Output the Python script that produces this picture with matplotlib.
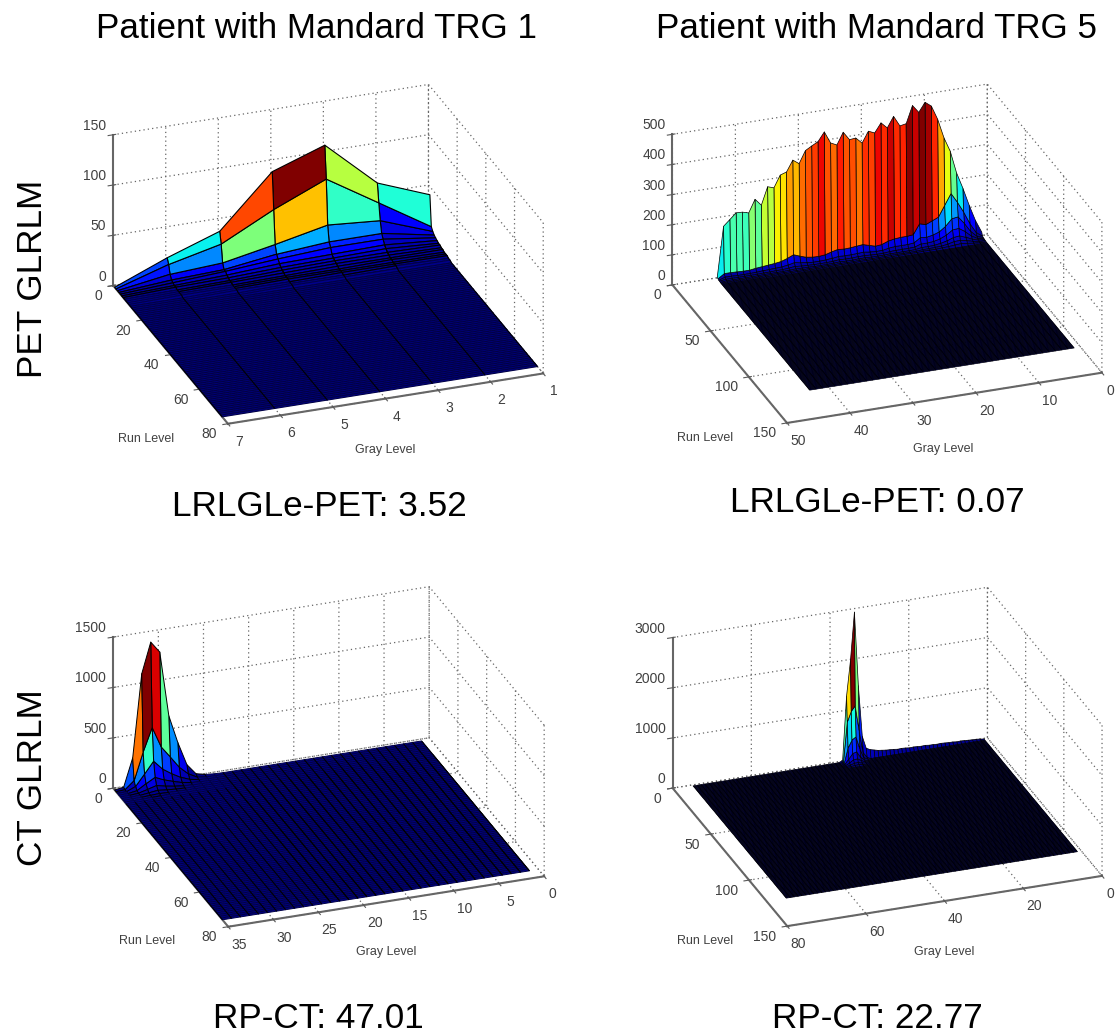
import matplotlib

matplotlib.use("Agg")

import matplotlib.pyplot as plt
import numpy as np
from mpl_toolkits.mplot3d import proj3d

WIDTH, HEIGHT = 1115, 1035
JET = matplotlib.colormaps["jet"]

# panel A: PET GLRLM, TRG 1 - rows are run levels, columns gray levels 1..7
pet1_rows = [
    [42, 62, 108, 90, 39, 21, 0],
    [12, 44, 76, 54, 28, 16, 0],
    [9, 28, 32, 21, 11, 8, 0],
    [7, 17, 17, 13, 6, 4, 0],
    [6, 13, 13, 10, 6, 3, 0],
    [5, 9, 8, 7, 4, 2, 0],
    [4, 7, 6, 5, 3, 2, 0],
    [4, 5, 5, 4, 2, 1, 0],
    [3, 4, 4, 3, 2, 1, 0],
    [3, 3, 3, 2, 1, 1, 0],
    [2, 3, 2, 2, 1, 1, 0],
    [2, 2, 2, 2, 1, 0, 0],
    [2, 2, 2, 1, 1, 0, 0],
    [1, 2, 1, 1, 0, 0, 0],
    [1, 1, 1, 1, 0, 0, 0],
]

# panel B: PET GLRLM, TRG 5 - gray levels 1..43
pet5_rows = [
    [15, 57, 111, 171, 225, 300, 348, 413, 460, 476, 446, 472, 415, 411, 446, 411, 431, 401, 410, 374, 394, 392,
     420, 381, 391, 431, 402, 391, 379, 339, 354, 318, 311, 272, 279, 221, 244, 202, 208, 209, 190, 171, 5],
    [5, 20, 53, 95, 131, 163, 127, 91, 82, 73, 79, 46, 44, 44, 42, 38, 30, 28, 34, 40, 38, 36,
     35, 37, 32, 26, 24, 25, 28, 35, 43, 34, 27, 24, 22, 20, 18, 15, 15, 16, 17, 17, 3],
    [3, 10, 30, 60, 85, 82, 60, 45, 38, 34, 36, 22, 20, 20, 20, 18, 14, 13, 15, 18, 17, 16,
     16, 17, 14, 12, 11, 11, 13, 16, 20, 15, 12, 11, 10, 9, 8, 7, 7, 7, 8, 8, 1],
    [2, 6, 18, 36, 50, 48, 34, 25, 20, 18, 18, 11, 10, 10, 10, 9, 7, 7, 8, 9, 9, 8,
     8, 9, 7, 6, 6, 6, 7, 8, 10, 8, 6, 6, 5, 5, 4, 4, 4, 4, 4, 4, 1],
    [1, 4, 10, 20, 28, 26, 18, 13, 10, 9, 9, 6, 5, 5, 5, 5, 4, 4, 4, 5, 5, 4,
     4, 5, 4, 3, 3, 3, 4, 4, 5, 4, 3, 3, 3, 3, 2, 2, 2, 2, 2, 2, 0],
    [1, 2, 6, 12, 16, 15, 10, 7, 6, 5, 5, 3, 3, 3, 3, 3, 2, 2, 2, 3, 3, 2,
     2, 3, 2, 2, 2, 2, 2, 2, 3, 2, 2, 2, 2, 2, 1, 1, 1, 1, 1, 1, 0],
    [0, 1, 3, 6, 8, 7, 5, 4, 3, 3, 3, 2, 2, 2, 2, 1, 1, 1, 1, 2, 2, 1,
     1, 2, 1, 1, 1, 1, 1, 1, 2, 1, 1, 1, 1, 1, 0, 0, 0, 0, 0, 0, 0],
]

# panel C: CT GLRLM, TRG 1 - gray levels 24..35 hold the peak, lower ones stay near 0
ct1_peak_start = 24
ct1_rows = [
    [3, 10, 33, 137, 370, 650, 1297, 1410, 1110, 290, 13, 0],
    [1, 4, 15, 63, 143, 260, 373, 580, 350, 80, 5, 0],
    [0, 2, 8, 25, 60, 110, 170, 263, 150, 40, 2, 0],
    [0, 1, 4, 10, 25, 50, 80, 120, 70, 15, 1, 0],
    [0, 0, 2, 4, 10, 20, 35, 55, 30, 7, 0, 0],
    [0, 0, 1, 2, 5, 9, 15, 25, 14, 3, 0, 0],
    [0, 0, 0, 1, 2, 4, 6, 10, 6, 1, 0, 0],
    [0, 0, 0, 0, 1, 2, 3, 5, 3, 0, 0, 0],
]

# panel D: CT GLRLM, TRG 5 - low run edge for gray levels 1..37, then the spike rows
ct5_edge = [10, 20, 30, 30, 35, 40, 45, 40, 50, 50, 55, 60, 55, 60, 60, 70, 65, 70, 75, 70, 80, 85, 80, 90, 95,
            100, 110, 120, 140, 160, 200, 450, 1470, 2950, 2000, 1300, 30]
ct5_peak_start = 31
ct5_rows = [
    [40, 150, 600, 1100, 1000, 800, 10],
    [20, 60, 250, 500, 450, 300, 5],
    [10, 30, 100, 220, 200, 100, 2],
    [5, 15, 50, 100, 90, 40, 0],
    [2, 8, 20, 45, 40, 15, 0],
    [0, 3, 10, 20, 15, 6, 0],
]

x_ticks_all = [[1, 2, 3, 4, 5, 6, 7], [0, 10, 20, 30, 40, 50], [0, 5, 10, 15, 20, 25, 30, 35], [0, 20, 40, 60, 80]]
y_ticks_all = [[0, 20, 40, 60, 80], [0, 50, 100, 150], [0, 20, 40, 60, 80], [0, 50, 100, 150]]
z_ticks_all = [[0, 50, 100, 150], [0, 100, 200, 300, 400, 500], [0, 500, 1000, 1500], [0, 1000, 2000, 3000]]


def pad_rows(rows, n_x, n_y, x_start=1):
    grid = np.zeros((n_y, n_x))
    rows = np.array(rows, dtype=float)
    grid[: rows.shape[0], x_start - 1: x_start - 1 + rows.shape[1]] = rows
    return grid


pet1 = pad_rows(pet1_rows, 7, 76)
pet5 = pad_rows(pet5_rows, 43, 122)
ct1 = pad_rows(ct1_rows, 35, 76, ct1_peak_start)
ct5 = pad_rows(ct5_rows, 75, 122, ct5_peak_start)
ct5 = np.vstack([np.zeros((1, 75)), ct5])
ct5[0, : len(ct5_edge)] = ct5_edge

plt.rcParams["font.family"] = ["Liberation Sans", "DejaVu Sans"]
plt.rcParams["grid.linestyle"] = (0, (1, 2.5))
plt.rcParams["grid.color"] = "0.4"
plt.rcParams["grid.linewidth"] = 0.9

fig = plt.figure(figsize=(WIDTH / 100, HEIGHT / 100), dpi=100)


def label(px, py, text, size, ha="center", **kwargs):
    fig.text(px / WIDTH, 1 - py / HEIGHT, text, fontsize=size, ha=ha, va="center", **kwargs)


def place_axes(ax, limits, targets):
    # fit the square 3D axes so that the box corners land on the wanted pixels
    (x0, x1), (y0, y1), (z0, z1) = limits
    corners = [(x1, y0, z0), (x1, y0, z1), (x1, y1, z0), (x0, y1, z0), (x0, y0, z1)]
    proj = ax.get_proj()
    uv = [proj3d.proj_transform(*c, proj)[:2] for c in corners]
    rows, rhs = [], []
    for (u, v), (px, py) in zip(uv, targets):
        rows.append([u, 1, 0])
        rhs.append(px)
        rows.append([v, 0, 1])
        rhs.append(HEIGHT - py)
    s, bx, by = np.linalg.lstsq(np.array(rows), np.array(rhs), rcond=None)[0]
    xl, yl = ax.viewLim.intervalx, ax.viewLim.intervaly
    left, bottom = s * xl[0] + bx, s * yl[0] + by
    ax.set_position([left / WIDTH, bottom / HEIGHT, s * (xl[1] - xl[0]) / WIDTH, s * (yl[1] - yl[0]) / HEIGHT])

    def to_pixels(x, y, z):
        u, v = proj3d.proj_transform(x, y, z, proj)[:2]
        return s * u + bx, HEIGHT - (s * v + by)

    return to_pixels


def draw_panel(z, limits, ticks, targets, black_above=None, edge_width=0.5, wire_rows=None, wire_cols=None):
    x_ticks, y_ticks, z_ticks = ticks
    ax = fig.add_axes([0, 0, 0.4, 0.4], projection="3d", proj_type="ortho", computed_zorder=False)
    ax.patch.set_visible(False)
    ax.view_init(elev=26, azim=70)
    ax.set_box_aspect((1, 1, 0.5), zoom=1)

    n_y, n_x = z.shape
    xs, ys = np.meshgrid(np.arange(1, n_x + 1), np.arange(1, n_y + 1))
    colors = JET(np.clip(z / z.max(), 0, 1))
    surf = ax.plot_surface(xs, ys, z, rstride=1, cstride=1, facecolors=colors, shade=False, zorder=2,
                           linewidth=edge_width, edgecolor="k", antialiased=True)
    if black_above is not None:
        # low parts of the surface only show faint mesh lines
        edges = colors[:-1, :-1].copy()
        edges[..., :3] *= 0.55
        edges[z[:-1, :-1] >= black_above] = (0, 0, 0, 1)
        surf.set_edgecolor(edges.reshape(-1, 4))
        ax.plot_wireframe(xs[wire_rows:], ys[wire_rows:], z[wire_rows:], rstride=0, cstride=1,
                          color="k", linewidth=0.7, zorder=3)
        if wire_cols:
            ax.plot_wireframe(xs[:, :wire_cols], ys[:, :wire_cols], z[:, :wire_cols], rstride=0, cstride=1,
                              color="k", linewidth=0.7, zorder=3)

    ax.set_xlim(*limits[0])
    ax.set_ylim(*limits[1])
    ax.set_zlim(*limits[2])
    ax.set_xticks(x_ticks, labels=[])
    ax.set_yticks(y_ticks, labels=[])
    ax.set_zticks(z_ticks, labels=[])
    for axis in (ax.xaxis, ax.yaxis, ax.zaxis):
        axis.set_pane_color((1, 1, 1, 0))
        axis.pane.set_edgecolor((1, 1, 1, 0))
        axis.line.set_color("0.4")
        axis.line.set_linewidth(1.5)
    ax.tick_params(colors="0.35", pad=0)
    to_pixels = place_axes(ax, limits, targets)

    # matlab keeps the tick labels upright and close to the box corners
    x_far = limits[0][1]
    y_near, y_far = limits[1]
    for t in x_ticks:
        px, py = to_pixels(t, y_far, 0)
        label(px + (8 if t == 0 else 11), py + 18, str(t), 10, color="0.25")
    for t in y_ticks:
        px, py = to_pixels(x_far, t, 0)
        label(px - 11, py + 10.5, str(t), 10, ha="right", color="0.25")
    for t in z_ticks:
        px, py = to_pixels(x_far, y_near, t)
        label(px - 7, py - 9, str(t), 10, ha="right", color="0.25")
    return ax


targets_all = [
    [(113, 286), (113, 135), (227, 423), (543, 373), (430, 85)],
    [(672, 284), (672, 135), (787, 422), (1103, 373), (987, 85)],
    [(113, 787), (113, 638), (227, 927), (545, 875), (430, 588)],
    [(672, 786), (672, 638), (788, 927), (1103, 875), (987, 589)],
]

draw_panel(pet1, ((1, 7), (0, 80), (0, 150)), (x_ticks_all[0], y_ticks_all[0], z_ticks_all[0]), targets_all[0],
           black_above=2, edge_width=0.8, wire_rows=5)
draw_panel(pet5, ((0, 50), (0, 150), (0, 500)), (x_ticks_all[1], y_ticks_all[1], z_ticks_all[1]), targets_all[1])
draw_panel(ct1, ((0, 35), (0, 80), (0, 1500)), (x_ticks_all[2], y_ticks_all[2], z_ticks_all[2]), targets_all[2],
           black_above=5, edge_width=0.7, wire_rows=8, wire_cols=23)
draw_panel(ct5, ((0, 80), (0, 150), (0, 3000)), (x_ticks_all[3], y_ticks_all[3], z_ticks_all[3]), targets_all[3])

label(317, 28, "Patient with Mandard TRG 1", 25.2, color="k")
label(877, 28, "Patient with Mandard TRG 5", 25.2, color="k")
label(33, 279, "PET GLRLM", 25.3, color="k", rotation=90)
label(33, 778, "CT GLRLM", 25.3, color="k", rotation=90)
label(319, 507, "LRLGLe-PET: 3.52", 25.3, color="k")
label(877, 503, "LRLGLe-PET: 0.07", 25.3, color="k")
label(318, 1018, "RP-CT: 47.01", 25.3, color="k")
label(877, 1018, "RP-CT: 22.77", 25.3, color="k")

for px, py in [(146, 439), (705, 438), (147, 941), (705, 941)]:
    label(px, py, "Run Level", 9, color="0.25")
for px, py in [(385, 450), (943, 449), (386, 952), (944, 952)]:
    label(px, py, "Gray Level", 9, color="0.25")

fig.savefig("out.png", dpi=100)
